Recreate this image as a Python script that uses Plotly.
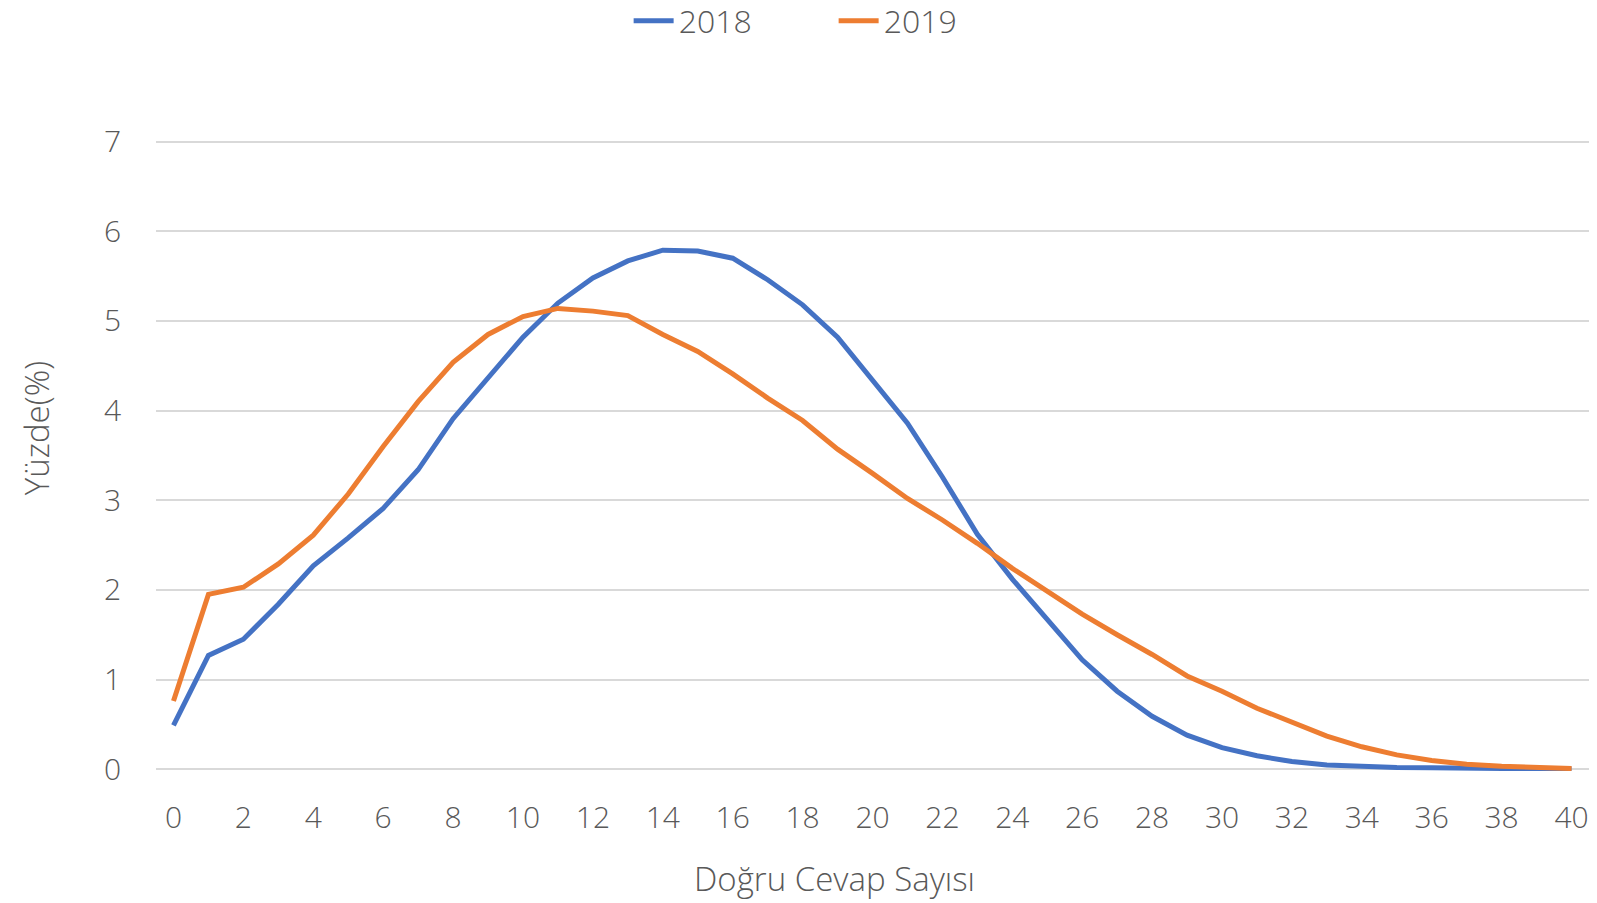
import plotly.graph_objects as go

dogru_cevap = list(range(41))

yuzde_2018 = [0.49, 1.27, 1.45, 1.84, 2.27, 2.58, 2.91, 3.34, 3.91, 4.36,
              4.82, 5.20, 5.48, 5.67, 5.79, 5.78, 5.70, 5.46, 5.18, 4.82,
              4.35, 3.86, 3.26, 2.62, 2.12, 1.66, 1.22, 0.87, 0.59, 0.38,
              0.24, 0.15, 0.085, 0.048, 0.03, 0.02, 0.015, 0.01, 0.005, 0.003, 0.001]

yuzde_2019 = [0.76, 1.95, 2.03, 2.29, 2.61, 3.07, 3.60, 4.10, 4.54, 4.85,
              5.05, 5.14, 5.11, 5.06, 4.85, 4.66, 4.41, 4.14, 3.89, 3.57,
              3.30, 3.02, 2.78, 2.52, 2.24, 1.99, 1.73, 1.50, 1.28, 1.04,
              0.87, 0.68, 0.52, 0.37, 0.25, 0.16, 0.097, 0.056, 0.033, 0.019, 0.007]

x_ticks = list(range(0, 41, 2))
y_ticks = list(range(0, 8))

FONT = "Open Sans"
GRAY = "#595959"

W, H = 1597, 903
Y_LO, Y_HI = -0.02, 7.03
PX_PER_UNIT = (769 - 141.5) / 7
L, R = 156, 8
T = 141.5 - (Y_HI - 7) * PX_PER_UNIT
B = (H - 769) - (0 - Y_LO) * PX_PER_UNIT
PLOT_H = H - T - B

fig = go.Figure()
fig.add_trace(go.Scatter(x=dogru_cevap, y=yuzde_2018, mode="lines", name="2018",
                         line=dict(color="#4472C4", width=5)))
fig.add_trace(go.Scatter(x=dogru_cevap, y=yuzde_2019, mode="lines", name="2019",
                         line=dict(color="#ED7D31", width=5)))


def py(page_y):
    """page y (px from top) -> paper y"""
    return (H - B - page_y) / PLOT_H


def px(page_x):
    return (page_x - L) / (W - L - R)


fig.update_layout(
    width=W, height=H,
    margin=dict(l=L, r=R, t=T, b=B),
    paper_bgcolor="white", plot_bgcolor="white",
    font=dict(family=FONT, color=GRAY, size=30, weight=300),
    showlegend=True,
    legend=dict(orientation="h", x=0.522, xanchor="center", xref="container",
                y=1 - 21 / H, yanchor="middle", yref="container",
                font=dict(size=32, color=GRAY, family=FONT, weight=300),
                entrywidth=150, itemwidth=40, bgcolor="rgba(0,0,0,0)"),
    xaxis=dict(range=[-0.5, 40.5], tickmode="array", tickvals=x_ticks,
               ticktext=[str(v) for v in x_ticks], showgrid=False, zeroline=False,
               showline=False, ticks="", ticklabelstandoff=26,
               tickfont=dict(size=30, color=GRAY, family=FONT, weight=300)),
    yaxis=dict(range=[Y_LO, Y_HI], tickmode="array", tickvals=y_ticks,
               ticktext=[str(v) for v in y_ticks], showgrid=True, gridcolor="#D9D9D9",
               gridwidth=1.5, zeroline=False, showline=False, ticks="",
               ticklabelstandoff=34,
               tickfont=dict(size=30, color=GRAY, family=FONT, weight=300)),
    annotations=[
        dict(text="Doğru Cevap Sayısı", xref="paper", yref="paper",
             x=px(834), y=py(878),
             xanchor="center", yanchor="middle", showarrow=False,
             font=dict(size=33, color=GRAY, family=FONT, weight=300)),
        dict(text="Yüzde(%)", xref="paper", yref="paper",
             x=px(36), y=py(428),
             xanchor="center", yanchor="middle", showarrow=False, textangle=-90,
             font=dict(size=33, color=GRAY, family=FONT, weight=300)),
    ],
)

fig.write_html("out.html", config={"displayModeBar": False},
               post_script="document.body.style.margin='0px';")
